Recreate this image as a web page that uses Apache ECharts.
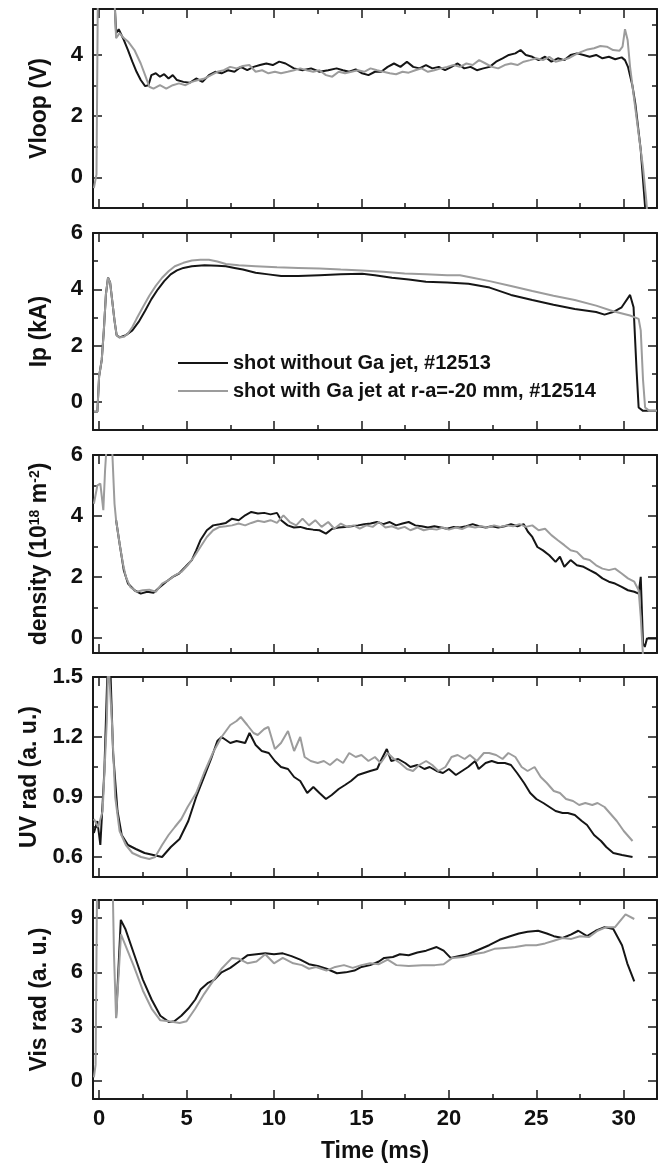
<!DOCTYPE html>
<html><head><meta charset="utf-8">
<script src="https://cdn.jsdelivr.net/npm/echarts@6/dist/echarts.min.js"></script>
<style>html,body{margin:0;padding:0;background:#fff}#c{width:668px;height:1170px}</style>
</head><body><div id="c"></div>
<script>
// ---- data (time in ms, value) ----
const seriesNames = ['shot without Ga jet, #12513', 'shot with Ga jet at r-a=-20 mm, #12514'];
const xMajor = [0, 5, 10, 15, 20, 25, 30];
const xMinor = [2.5, 7.5, 12.5, 17.5, 22.5, 27.5];

const vloopMajor = [0, 2, 4];
const vloopMinor = [1, 3, 5];
const vloopBlack = [[0.85,6.2],[0.97,4.71],[1.12,4.84],[1.41,4.49],[1.65,4.16],[1.9,3.78],[2.14,3.45],[2.38,3.18],[2.63,2.98],[2.82,3.01],[2.99,3.34],[3.24,3.4],[3.48,3.29],[3.72,3.37],[3.97,3.23],[4.21,3.34],[4.45,3.18],[4.82,3.12],[5.18,3.09],[5.55,3.23],[5.91,3.12],[6.28,3.34],[6.64,3.45],[7.0,3.4],[7.37,3.5],[7.74,3.45],[8.1,3.61],[8.47,3.5],[8.83,3.61],[9.2,3.67],[9.56,3.72],[9.93,3.67],[10.3,3.78],[10.66,3.72],[11.14,3.56],[11.63,3.5],[12.12,3.56],[12.6,3.45],[13.1,3.5],[13.58,3.56],[13.94,3.5],[14.3,3.45],[14.67,3.53],[15.04,3.4],[15.4,3.34],[15.77,3.45],[16.13,3.45],[16.5,3.61],[16.86,3.72],[17.23,3.61],[17.6,3.78],[17.96,3.61],[18.32,3.56],[18.69,3.67],[19.05,3.56],[19.42,3.61],[19.78,3.5],[20.15,3.61],[20.5,3.72],[20.88,3.56],[21.24,3.61],[21.6,3.5],[21.97,3.56],[22.33,3.61],[22.7,3.78],[23.07,3.89],[23.43,4.0],[23.8,4.05],[24.1,4.16],[24.4,4.0],[24.77,3.94],[25.13,3.83],[25.5,3.94],[25.86,3.78],[26.23,3.89],[26.6,3.83],[26.96,4.0],[27.32,4.05],[27.7,4.0],[28.05,3.94],[28.42,4.0],[28.78,3.89],[29.15,3.94],[29.51,3.86],[29.88,3.92],[30.07,3.83],[30.24,3.61],[30.49,3.01],[30.66,2.41],[30.97,0.9],[31.25,-1.2]];
const vloopGray = [[-0.3,-0.35],[-0.15,0.1],[-0.07,6.2],[0.85,6.2],[0.97,4.55],[1.17,4.71],[1.41,4.55],[1.65,4.44],[2.02,4.16],[2.38,3.72],[2.63,3.34],[2.87,2.96],[3.11,2.9],[3.48,3.01],[3.84,2.9],[4.21,3.01],[4.57,3.07],[4.94,3.01],[5.3,3.12],[5.67,3.18],[6.03,3.23],[6.4,3.34],[6.76,3.45],[7.13,3.5],[7.49,3.61],[7.86,3.56],[8.22,3.64],[8.59,3.67],[8.95,3.45],[9.32,3.5],[9.68,3.4],[10.05,3.45],[10.4,3.4],[10.78,3.45],[11.14,3.5],[11.5,3.56],[11.87,3.5],[12.24,3.45],[12.6,3.5],[12.97,3.34],[13.33,3.29],[13.7,3.45],[14.06,3.4],[14.43,3.45],[14.8,3.5],[15.16,3.45],[15.52,3.56],[15.89,3.5],[16.25,3.45],[16.62,3.4],[16.98,3.37],[17.35,3.45],[17.7,3.42],[18.08,3.5],[18.44,3.56],[18.8,3.45],[19.17,3.5],[19.54,3.56],[19.9,3.61],[20.27,3.67],[20.63,3.61],[21.0,3.72],[21.36,3.67],[21.73,3.83],[22.1,3.72],[22.46,3.61],[22.82,3.56],[23.19,3.67],[23.55,3.72],[23.92,3.67],[24.28,3.78],[24.65,3.83],[25.0,3.89],[25.38,3.83],[25.74,3.94],[26.1,3.78],[26.47,3.83],[26.84,3.89],[27.2,4.0],[27.57,4.1],[27.93,4.18],[28.3,4.22],[28.66,4.29],[29.03,4.27],[29.39,4.16],[29.76,4.14],[29.93,4.27],[30.07,4.84],[30.22,4.49],[30.36,3.61],[30.6,2.52],[30.85,1.42],[31.1,0.33],[31.29,-0.77],[31.36,-1.3]];

const ipMajor = [0, 2, 4, 6];
const ipMinor = [1, 3, 5];
const ipBlack = [[-0.3,-0.35],[-0.1,-0.35],[0,0.91],[0.15,1.49],[0.27,2.54],[0.39,3.83],[0.51,4.41],[0.63,4.24],[0.75,3.59],[0.88,2.89],[1.0,2.37],[1.17,2.29],[1.53,2.37],[1.9,2.54],[2.26,2.84],[2.63,3.24],[2.99,3.65],[3.36,4.0],[3.72,4.29],[4.09,4.53],[4.45,4.67],[4.82,4.76],[5.3,4.82],[6.03,4.85],[6.76,4.84],[7.25,4.82],[7.74,4.76],[8.22,4.7],[8.95,4.59],[9.68,4.53],[10.41,4.47],[11.39,4.47],[12.6,4.5],[13.82,4.53],[15.04,4.55],[15.77,4.5],[16.74,4.41],[17.71,4.35],[18.69,4.27],[19.9,4.24],[21.12,4.2],[22.33,4.06],[23.55,3.8],[24.77,3.62],[25.98,3.45],[27.2,3.3],[28.42,3.19],[28.9,3.1],[29.39,3.19],[29.88,3.36],[30.36,3.8],[30.56,3.36],[30.73,1.14],[30.85,-0.2],[31.1,-0.32],[31.9,-0.32]];
const ipGray = [[-0.3,-0.35],[-0.1,-0.35],[0,0.91],[0.15,1.49],[0.27,2.54],[0.39,3.83],[0.51,4.41],[0.63,4.24],[0.75,3.59],[0.88,2.89],[1.0,2.37],[1.17,2.29],[1.41,2.31],[1.65,2.43],[1.9,2.66],[2.14,2.95],[2.5,3.36],[2.87,3.77],[3.24,4.12],[3.6,4.41],[3.97,4.64],[4.33,4.82],[4.82,4.94],[5.3,5.02],[5.79,5.05],[6.28,5.05],[6.76,4.99],[7.25,4.9],[7.98,4.85],[8.95,4.82],[10.17,4.78],[11.39,4.76],[12.6,4.74],[13.82,4.7],[15.04,4.67],[16.25,4.62],[17.47,4.56],[18.69,4.53],[19.9,4.5],[20.63,4.5],[21.36,4.41],[22.33,4.29],[23.55,4.12],[24.77,3.94],[25.98,3.77],[27.2,3.62],[28.42,3.42],[29.39,3.22],[30.36,3.07],[30.85,2.95],[30.97,2.54],[31.1,0.79],[31.22,-0.2],[31.46,-0.32],[31.9,-0.32]];

const denMajor = [0, 2, 4, 6];
const denMinor = [1, 3, 5];
const denBlack = [[0.97,3.86],[1.17,3.09],[1.41,2.22],[1.65,1.78],[2.02,1.56],[2.38,1.45],[2.75,1.51],[3.11,1.48],[3.48,1.67],[3.84,1.84],[4.21,2.0],[4.57,2.11],[4.94,2.33],[5.3,2.55],[5.55,2.87],[5.79,3.2],[6.16,3.53],[6.52,3.69],[6.89,3.73],[7.25,3.77],[7.6,3.91],[7.98,3.86],[8.35,4.02],[8.7,4.13],[9.08,4.08],[9.44,4.1],[9.8,4.05],[10.17,4.1],[10.41,3.86],[10.78,3.69],[11.14,3.62],[11.5,3.64],[11.87,3.58],[12.24,3.55],[12.6,3.53],[12.97,3.42],[13.33,3.58],[13.7,3.62],[14.06,3.64],[14.43,3.66],[14.8,3.69],[15.16,3.73],[15.52,3.75],[15.89,3.8],[16.25,3.73],[16.62,3.8],[16.98,3.69],[17.35,3.75],[17.7,3.8],[18.08,3.69],[18.44,3.66],[18.8,3.62],[19.17,3.66],[19.54,3.62],[19.9,3.58],[20.27,3.64],[20.63,3.62],[21.0,3.66],[21.36,3.73],[21.73,3.66],[22.1,3.62],[22.46,3.66],[22.82,3.62],[23.19,3.66],[23.55,3.73],[23.92,3.66],[24.28,3.73],[24.52,3.48],[24.77,3.31],[25.06,2.98],[25.38,2.87],[25.74,2.71],[26.1,2.49],[26.35,2.66],[26.6,2.33],[26.96,2.55],[27.32,2.38],[27.7,2.33],[28.05,2.22],[28.42,2.11],[28.78,1.95],[29.15,1.84],[29.5,1.78],[29.88,1.67],[30.24,1.56],[30.6,1.51],[30.85,1.45],[30.97,2.0],[31.1,-0.19],[31.2,-0.3],[31.33,-0.02],[31.9,-0.02]];
const denGray = [[-0.3,4.4],[-0.1,5.0],[0.07,5.06],[0.24,4.19],[0.34,5.5],[0.44,6.4],[0.73,6.4],[0.88,4.4],[0.97,3.86],[1.17,3.09],[1.36,2.44],[1.53,2.0],[1.78,1.67],[2.14,1.51],[2.5,1.56],[2.87,1.58],[3.24,1.51],[3.6,1.78],[3.97,1.89],[4.33,2.05],[4.7,2.16],[5.06,2.38],[5.43,2.66],[5.79,2.98],[6.16,3.31],[6.52,3.53],[6.89,3.64],[7.25,3.66],[7.6,3.69],[7.98,3.75],[8.35,3.69],[8.7,3.77],[9.08,3.84],[9.44,3.8],[9.8,3.86],[10.17,3.77],[10.54,4.02],[10.9,3.8],[11.27,3.69],[11.63,3.91],[12.0,3.69],[12.36,3.86],[12.72,3.64],[13.1,3.8],[13.45,3.58],[13.82,3.75],[14.18,3.64],[14.55,3.69],[14.9,3.58],[15.28,3.69],[15.64,3.64],[16.0,3.8],[16.37,3.62],[16.74,3.66],[17.1,3.58],[17.47,3.64],[17.8,3.53],[18.2,3.62],[18.56,3.53],[18.93,3.58],[19.3,3.55],[19.66,3.62],[20.0,3.55],[20.4,3.62],[20.75,3.57],[21.1,3.66],[21.5,3.62],[21.85,3.66],[22.2,3.62],[22.58,3.69],[22.94,3.64],[23.3,3.69],[23.67,3.66],[24.04,3.73],[24.4,3.64],[24.77,3.69],[25.13,3.53],[25.5,3.58],[25.86,3.37],[26.23,3.2],[26.6,3.04],[26.96,2.87],[27.32,2.82],[27.7,2.6],[28.05,2.55],[28.42,2.38],[28.78,2.27],[29.15,2.22],[29.5,2.27],[29.88,2.11],[30.24,1.95],[30.6,1.84],[30.85,1.56],[30.97,0.69],[31.1,-0.6]];

const uvMajor = [0.6, 0.9, 1.2, 1.5];
const uvMinor = [0.75, 1.05, 1.35];
const uvBlack = [[-0.3,0.72],[-0.1,0.78],[0.07,0.66],[0.3,1.03],[0.5,1.6],[0.62,1.6],[0.8,1.12],[1.05,0.83],[1.29,0.71],[1.65,0.66],[2.1,0.64],[2.6,0.62],[3.1,0.61],[3.6,0.6],[4.1,0.65],[4.6,0.69],[5.1,0.78],[5.55,0.9],[6.0,1.0],[6.4,1.09],[6.76,1.18],[7.0,1.2],[7.5,1.17],[7.86,1.18],[8.35,1.17],[8.6,1.22],[8.95,1.16],[9.3,1.13],[9.7,1.12],[10.05,1.08],[10.4,1.05],[10.8,1.04],[11.15,1.0],[11.5,0.98],[11.9,0.92],[12.25,0.95],[12.6,0.92],[12.97,0.89],[13.3,0.91],[13.7,0.94],[14.06,0.96],[14.4,0.98],[14.8,1.01],[15.15,1.02],[15.5,1.03],[15.9,1.04],[16.1,1.08],[16.45,1.14],[16.7,1.08],[17.1,1.09],[17.5,1.07],[17.8,1.05],[18.2,1.06],[18.6,1.04],[18.9,1.05],[19.3,1.03],[19.66,1.02],[20.0,1.04],[20.4,1.01],[20.75,1.03],[21.1,1.05],[21.5,1.08],[21.7,1.04],[22.1,1.07],[22.45,1.08],[22.8,1.07],[23.2,1.07],[23.55,1.06],[23.9,1.02],[24.3,0.97],[24.65,0.92],[25.0,0.89],[25.4,0.87],[25.75,0.85],[26.1,0.83],[26.5,0.82],[26.8,0.82],[27.2,0.81],[27.6,0.78],[27.9,0.76],[28.3,0.71],[28.7,0.68],[29.0,0.65],[29.4,0.62],[29.9,0.61],[30.5,0.6]];
const uvGray = [[-0.3,0.79],[-0.05,0.75],[0.2,0.83],[0.44,1.28],[0.52,1.6],[0.6,1.6],[0.73,1.28],[0.92,0.9],[1.17,0.73],[1.53,0.66],[1.9,0.62],[2.4,0.6],[2.87,0.59],[3.2,0.6],[3.6,0.66],[3.97,0.71],[4.33,0.75],[4.7,0.79],[5.06,0.85],[5.55,0.92],[6.0,1.02],[6.5,1.12],[7.0,1.2],[7.5,1.26],[7.86,1.28],[8.1,1.3],[8.47,1.26],[8.83,1.22],[9.07,1.21],[9.44,1.24],[9.68,1.25],[10.05,1.14],[10.4,1.17],[10.8,1.23],[11.15,1.13],[11.5,1.2],[11.75,1.1],[12.1,1.08],[12.5,1.07],[12.85,1.08],[13.2,1.06],[13.6,1.09],[13.95,1.07],[14.3,1.12],[14.67,1.1],[15.0,1.11],[15.4,1.08],[15.77,1.1],[16.1,1.07],[16.5,1.12],[16.86,1.09],[17.2,1.07],[17.6,1.04],[17.95,1.03],[18.3,1.06],[18.7,1.08],[19.05,1.06],[19.4,1.03],[19.8,1.05],[20.15,1.1],[20.5,1.11],[20.9,1.09],[21.2,1.11],[21.6,1.08],[22.0,1.12],[22.3,1.12],[22.7,1.11],[23.07,1.09],[23.4,1.12],[23.8,1.1],[24.16,1.05],[24.5,1.03],[24.9,1.05],[25.25,1.0],[25.6,0.97],[26.0,0.93],[26.35,0.92],[26.7,0.89],[27.1,0.88],[27.45,0.86],[27.8,0.87],[28.2,0.86],[28.5,0.87],[28.9,0.85],[29.3,0.81],[29.6,0.78],[30.0,0.73],[30.5,0.68]];

const visMajor = [0, 3, 6, 9];
const visMinor = [1.5, 4.5, 7.5];
const visBlack = [[0.97,3.5],[1.24,8.9],[1.5,8.4],[2.0,7.0],[2.5,5.6],[3.0,4.5],[3.5,3.6],[4.0,3.25],[4.3,3.3],[4.7,3.6],[5.1,4.0],[5.5,4.5],[5.8,5.05],[6.2,5.4],[6.6,5.6],[7.0,6.0],[7.5,6.25],[8.0,6.6],[8.5,6.95],[9.0,7.0],[9.5,7.05],[10.0,7.0],[10.5,7.05],[11.0,6.9],[11.5,6.7],[12.0,6.45],[12.5,6.35],[13.0,6.2],[13.6,5.95],[14.1,6.0],[14.6,6.1],[15.0,6.3],[15.5,6.4],[16.0,6.6],[16.3,6.8],[16.8,6.85],[17.2,7.0],[17.7,6.95],[18.2,7.1],[18.7,7.2],[19.3,7.4],[19.7,7.2],[20.1,6.8],[20.6,6.9],[21.1,7.0],[21.7,7.25],[22.3,7.5],[22.9,7.8],[23.5,8.0],[24.0,8.15],[24.5,8.25],[25.1,8.3],[25.6,8.15],[26.0,8.0],[26.5,7.9],[27.0,8.1],[27.4,8.3],[27.9,8.0],[28.4,8.3],[28.9,8.5],[29.4,8.4],[29.9,7.5],[30.2,6.5],[30.6,5.5]];
const visGray = [[-0.3,0.2],[-0.2,0.9],[-0.12,10.6],[0.78,10.6],[0.85,7.0],[0.97,3.47],[1.25,8.1],[1.5,7.5],[2.0,6.3],[2.5,5.0],[3.0,4.0],[3.5,3.35],[4.0,3.3],[4.6,3.2],[5.0,3.3],[5.5,4.0],[6.0,4.8],[6.5,5.5],[7.0,6.2],[7.6,6.8],[8.0,6.75],[8.5,6.5],[9.0,6.6],[9.5,7.0],[10.0,6.5],[10.5,6.8],[11.1,6.5],[11.6,6.4],[12.0,6.2],[12.4,6.3],[13.0,6.1],[13.5,6.3],[14.0,6.4],[14.5,6.25],[15.0,6.4],[15.5,6.5],[16.0,6.45],[16.5,6.7],[17.0,6.4],[17.7,6.35],[18.5,6.4],[19.2,6.4],[19.7,6.45],[20.2,6.8],[20.8,6.85],[21.4,7.0],[22.0,7.1],[22.6,7.3],[23.2,7.35],[23.8,7.4],[24.4,7.5],[25.0,7.5],[25.5,7.6],[26.0,7.75],[26.5,7.9],[27.0,7.85],[27.5,8.0],[28.0,7.95],[28.5,8.3],[29.0,8.5],[29.5,8.5],[30.1,9.2],[30.6,8.95]];

// ---- chart ----
const black = '#151515', gray = '#9c9c9c';
const axisColor = '#1a1a1a';
const FONT = '"Liberation Sans", Arial, sans-serif';
const panels = [
  {name: 'Vloop (V)', min: -1, max: 5.5, major: vloopMajor, minor: vloopMinor, b: vloopBlack, g: vloopGray, fmt: v => String(v)},
  {name: 'Ip (kA)', min: -1, max: 6, major: ipMajor, minor: ipMinor, b: ipBlack, g: ipGray, fmt: v => String(v)},
  {name: 'density (10{s|18} m{s|-2})', min: -0.5, max: 6, major: denMajor, minor: denMinor, b: denBlack, g: denGray, fmt: v => String(v)},
  {name: 'UV rad (a. u.)', min: 0.5, max: 1.5, major: uvMajor, minor: uvMinor, b: uvBlack, g: uvGray, fmt: v => v.toFixed(1)},
  {name: 'Vis rad (a. u.)', min: -1, max: 10, major: visMajor, minor: visMinor, b: visBlack, g: visGray, fmt: v => String(v)}
];
const tops = [9, 233, 455, 677, 900];
const heights = [199, 197, 198, 200, 199];

const grids = [], xAxes = [], yAxes = [], series = [];
const labelStyle = {fontFamily: FONT, fontWeight: 'bold', fontSize: 22, color: '#111'};

panels.forEach((p, i) => {
  grids.push({left: 93, right: 11, top: tops[i], height: heights[i], containLabel: false});
  const last = i === panels.length - 1;
  const mkX = (pos, vals, len, line, labels) => ({
    type: 'value', gridIndex: i, position: pos, min: -0.35, max: 31.9,
    axisLine: {show: line, onZero: false, lineStyle: {color: axisColor, width: 2}},
    axisTick: {show: true, inside: true, length: len, customValues: vals, lineStyle: {color: axisColor, width: 1.5}},
    axisLabel: labels ? Object.assign({show: true, margin: 9, customValues: vals}, labelStyle) : {show: false, customValues: vals},
    splitLine: {show: false},
    name: (labels ? 'Time (ms)' : ''), nameLocation: 'middle', nameGap: 41,
    nameTextStyle: {fontFamily: FONT, fontWeight: 'bold', fontSize: 23, color: '#111'}
  });
  const xb = xAxes.length;
  xAxes.push(mkX('bottom', xMajor, 9, true, last));
  xAxes.push(mkX('bottom', xMinor, 5, false, false));
  xAxes.push(mkX('top', xMajor, 9, true, false));
  xAxes.push(mkX('top', xMinor, 5, false, false));

  const mkY = (pos, vals, len, line, labels) => ({
    type: 'value', gridIndex: i, position: pos, min: p.min, max: p.max,
    axisLine: {show: line, onZero: false, lineStyle: {color: axisColor, width: 2}},
    axisTick: {show: true, inside: true, length: len, customValues: vals, lineStyle: {color: axisColor, width: 1.5}},
    axisLabel: labels ? Object.assign({show: true, margin: 10, customValues: vals, formatter: p.fmt}, labelStyle) : {show: false, customValues: vals},
    splitLine: {show: false},
    name: labels ? p.name : '', nameLocation: 'middle', nameGap: 42, nameRotate: 90,
    nameTextStyle: {fontFamily: FONT, fontWeight: 'bold', fontSize: 23, color: '#111',
      rich: {s: {fontFamily: FONT, fontWeight: 'bold', fontSize: 14, color: '#111', verticalAlign: 'top', lineHeight: 14}}}
  });
  const yb = yAxes.length;
  yAxes.push(mkY('left', p.major, 9, true, true));
  yAxes.push(mkY('left', p.minor, 5, false, false));
  yAxes.push(mkY('right', p.major, 9, true, false));
  yAxes.push(mkY('right', p.minor, 5, false, false));

  series.push({type: 'line', name: seriesNames[0], xAxisIndex: xb, yAxisIndex: yb, data: p.b,
    showSymbol: false, symbol: 'none', color: black, lineStyle: {color: black, width: 2}, animation: false, z: 2});
  series.push({type: 'line', name: seriesNames[1], xAxisIndex: xb, yAxisIndex: yb, data: p.g,
    showSymbol: false, symbol: 'none', color: gray, lineStyle: {color: gray, width: 2}, animation: false, z: 3});
});

const chart = echarts.init(document.getElementById('c'), null, {renderer: 'canvas'});
chart.setOption({
  backgroundColor: '#fff',
  animation: false,
  grid: grids, xAxis: xAxes, yAxis: yAxes, series: series,
  legend: {
    data: seriesNames, orient: 'vertical', left: 178, top: 349, padding: 0, itemGap: 0,
    itemWidth: 50, itemHeight: 2, icon: 'rect', selectedMode: false,
    textStyle: {fontFamily: FONT, fontWeight: 'bold', fontSize: 20, color: '#111', lineHeight: 28}
  }
});
</script></body></html>
